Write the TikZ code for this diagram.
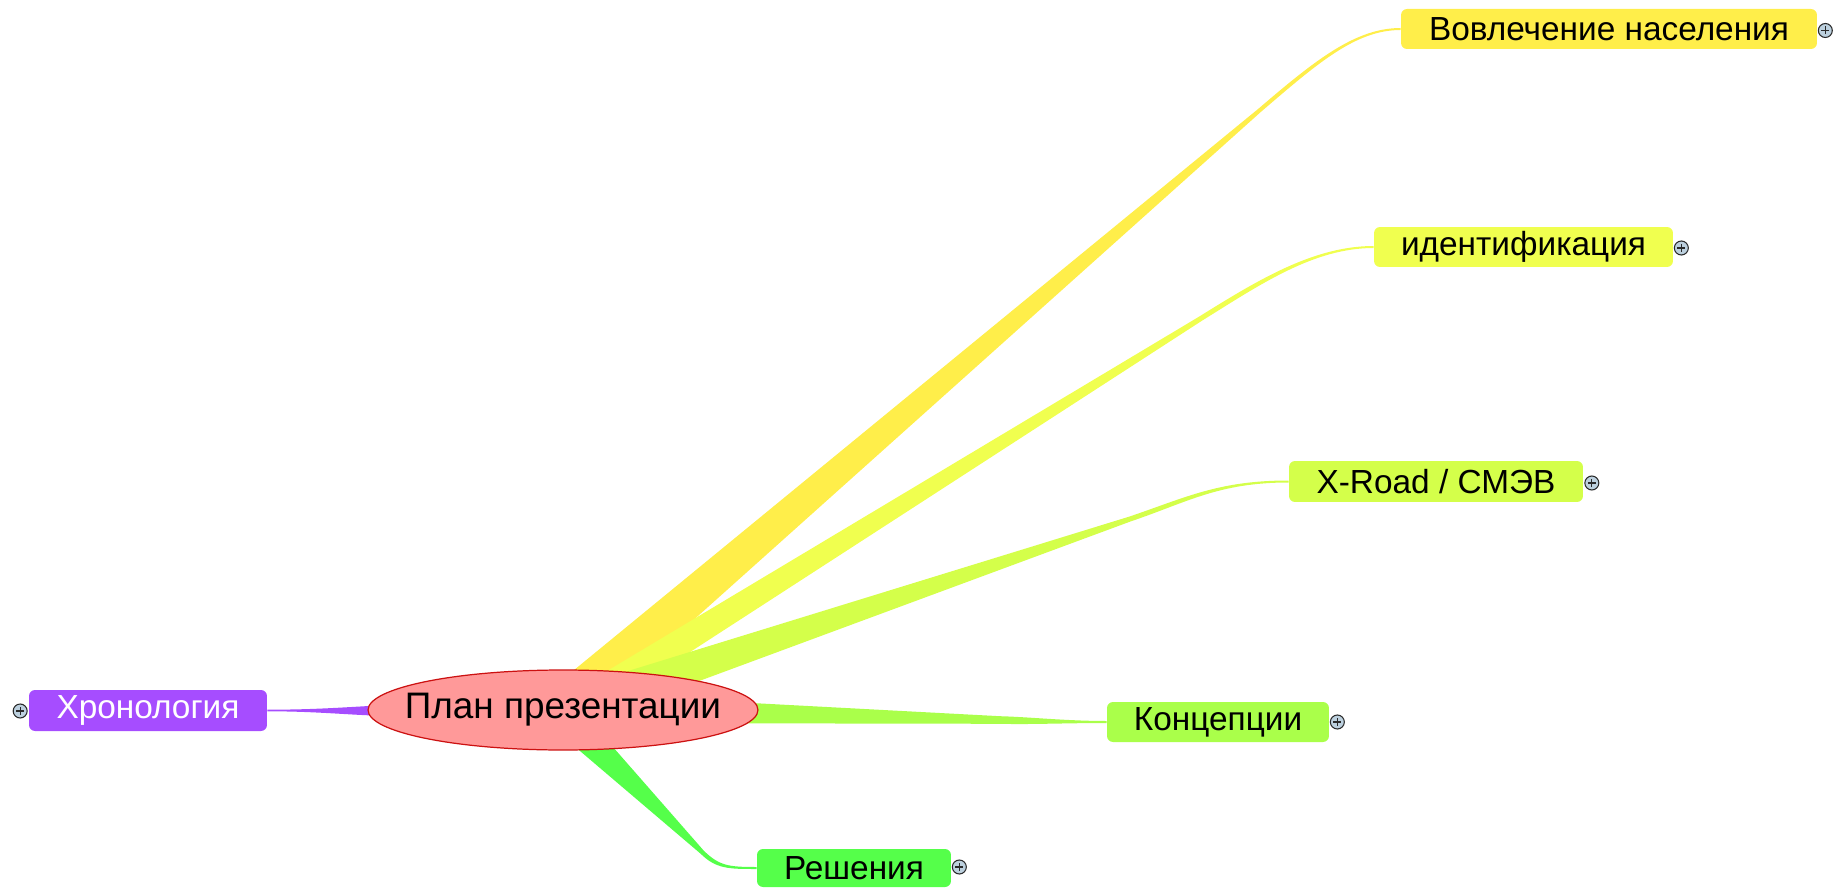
\documentclass[tikz,border=0pt]{standalone}
\usepackage{fontspec}
\setmainfont{Liberation Sans}
\usetikzlibrary{calc,shapes.geometric,backgrounds}
\definecolor{cVov}{HTML}{FFEE4A}
\definecolor{cIdn}{HTML}{F0FF4F}
\definecolor{cXrd}{HTML}{D4FF4A}
\definecolor{cKon}{HTML}{AAFF4A}
\definecolor{cRes}{HTML}{55FF4A}
\definecolor{cHro}{HTML}{A64DFF}
\definecolor{cRoot}{HTML}{FF9999}
\definecolor{cRootD}{HTML}{CC1111}
\definecolor{cPlus}{HTML}{BCD0DE}
\definecolor{cPlusD}{HTML}{2A2A2A}
% tapered branch: #1 colour, #2 start, #3 knee, #4 end, #5 start half-width, #6 knee half-width, #7 lead, #8 end bend
\newcommand\mmbranch[8]{%
  \path (#2) coordinate (bC) (#3) coordinate (bK) (#4) coordinate (bE);
  \path ($(bK)!-#7*0.02cm!(bC)$) coordinate (bA);
  \fill[#1] ($(bC)!#5*0.02cm!90:(bK)$) -- ($(bK)!#6*0.02cm!-90:(bC)$)
    .. controls ($(bA)!#6*0.02cm!-90:(bC)$) and ($(bE)+(-#8,-1)$) .. ($(bE)+(0,-1)$)
    -- ($(bE)+(0,1)$)
    .. controls ($(bE)+(-#8,1)$) and ($(bA)!#6*0.02cm!90:(bC)$) .. ($(bK)!#6*0.02cm!90:(bC)$)
    -- ($(bC)!#5*0.02cm!-90:(bK)$) -- cycle;
}
\begin{document}
\begin{tikzpicture}[x=0.02cm,y=-0.02cm,
  topic/.style={rectangle, rounded corners=0.12cm, inner sep=0pt, font=\fontsize{19}{22}\selectfont, text=black},
  rootnode/.style={ellipse, draw=cRootD, fill=cRoot, line width=0.7pt, minimum width=7.8cm, minimum height=1.6cm, inner sep=0pt, font=\fontsize{21}{24}\selectfont},
  plusnode/.style={circle, draw=cPlusD, fill=cPlus, line width=0.6pt, minimum size=0.28cm, inner sep=0pt,
    path picture={\draw[cPlusD, line width=0.6pt]
      ([xshift=-0.08cm]path picture bounding box.center) -- ([xshift=0.08cm]path picture bounding box.center)
      ([yshift=-0.08cm]path picture bounding box.center) -- ([yshift=0.08cm]path picture bounding box.center);}}
]
\useasboundingbox (0,0) rectangle (1835,888);

% nodes
\node[rootnode] (root) at (563,710) {\makebox[0pt]{План презентации}};
\node[topic, fill=cVov, minimum width=8.32cm, minimum height=0.8cm] (vov) at (1609,29) {Вовлечение населения};
\node[topic, fill=cIdn, minimum width=5.98cm, minimum height=0.8cm] (idn) at (1523.5,247) {идентификация};
\node[topic, fill=cXrd, minimum width=5.88cm, minimum height=0.82cm] (xrd) at (1436,481.5) {X-Road / СМЭВ};
\node[topic, fill=cKon, minimum width=4.44cm, minimum height=0.8cm] (kon) at (1218,722) {Концепции};
\node[topic, fill=cRes, minimum width=3.88cm, minimum height=0.76cm] (res) at (854,868) {Решения};
\node[topic, fill=cHro, text=white, minimum width=4.76cm, minimum height=0.82cm] (hro) at (148,710.5) {Хронология};

% expand markers
\node[plusnode] (pvov) at ($(vov.east)+(8,1.5)$) {};
\node[plusnode] (pidn) at ($(idn.east)+(8,1)$) {};
\node[plusnode] (pxrd) at ($(xrd.east)+(8.5,1.5)$) {};
\node[plusnode] (pkon) at ($(kon.east)+(8,0)$) {};
\node[plusnode] (pres) at ($(res.east)+(8,-1)$) {};
\node[plusnode] (phro) at ($(hro.west)+(-8.5,0.5)$) {};

% branches
\begin{pgfonlayer}{background}
\mmbranch{cVov}{$(root.center)+(-3,0)$}{1260,110}{vov.west}{22}{2}{75}{45}
\mmbranch{cIdn}{$(root.center)+(9,0)$}{1200,319}{idn.west}{15.5}{2.5}{70}{60}
\mmbranch{cXrd}{$(root.center)+(3,0)$}{1130,519}{xrd.west}{19}{2.5}{60}{70}
\mmbranch{cKon}{$(root.center)+(0,-2)$}{1000,720}{kon.west}{15}{3.8}{30}{40}
\mmbranch{cRes}{$(root.center)+(-5,0)$}{702,852}{res.west}{17}{2.2}{22}{28}
\fill[cHro] ($(hro.east)+(0,-0.8)$) .. controls ($(hro.east)+(50,-0.8)$) and ($(root.west)+(-20,-3)$) .. ($(root.west)+(20,-5)$)
  -- ($(root.west)+(20,6)$) .. controls ($(root.west)+(-20,5)$) and ($(hro.east)+(50,0.8)$) .. ($(hro.east)+(0,0.8)$) -- cycle;
\end{pgfonlayer}
\end{tikzpicture}
\end{document}
